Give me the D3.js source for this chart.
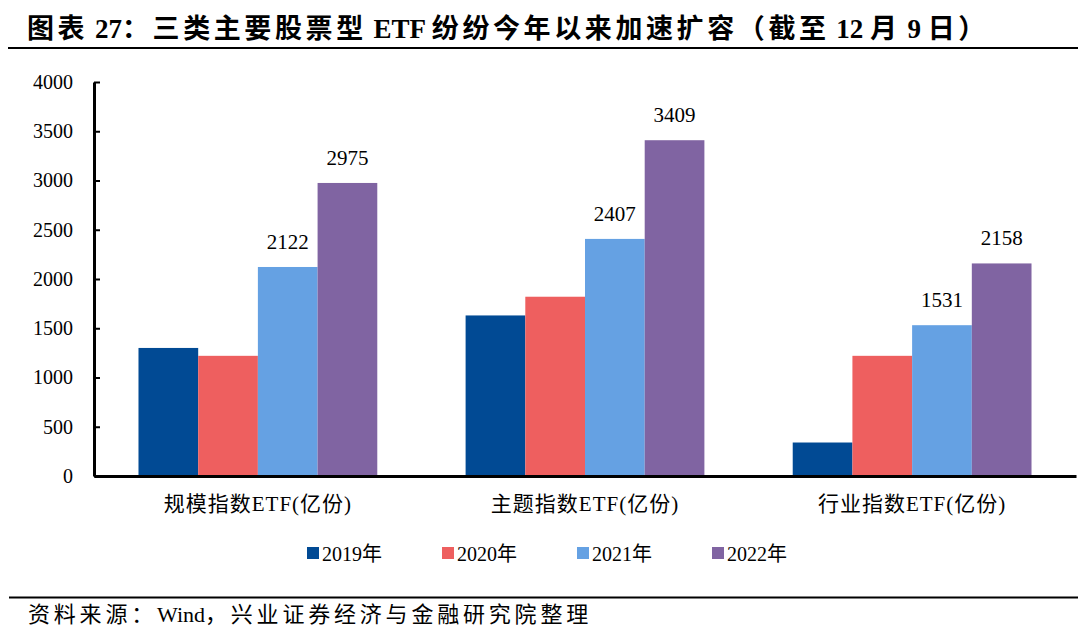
<!DOCTYPE html>
<html>
<head>
<meta charset="utf-8">
<script src="https://cdn.jsdelivr.net/npm/d3@7"></script>
<style>
  body { margin: 0; background: #fff; }
  svg { display: block; }
  text { font-family: "Liberation Serif", "Times New Roman", "Noto Sans CJK SC", serif; fill: #000; }
</style>
</head>
<body>
<svg id="chart" width="1080" height="629"></svg>
<script>
// data
const categories = ["规模指数ETF(亿份)", "主题指数ETF(亿份)", "行业指数ETF(亿份)"];
const years = ["2019年", "2020年", "2021年", "2022年"];
const values2019 = [1300, 1630, 340];
const values2020 = [1220, 1820, 1220];
const values2021 = [2122, 2407, 1531];
const values2022 = [2975, 3409, 2158];
const labelledYears = ["2021年", "2022年"];
const yTicks = [0, 500, 1000, 1500, 2000, 2500, 3000, 3500, 4000];
const colors = ["#014a94", "#ee5f5f", "#65a1e3", "#8064a2"];

const seriesValues = [values2019, values2020, values2021, values2022];
const rows = categories.map((c, i) => ({
  category: c,
  bars: years.map((y, j) => ({ year: y, value: seriesValues[j][i] }))
}));

const svg = d3.select("#chart");
const margin = { left: 94, right: 4, top: 82, bottom: 153 };
const width = 1080 - margin.left - margin.right;
const height = 629 - margin.top - margin.bottom;

// split text into latin / cjk runs so only the cjk part gets extra spacing
const addRuns = (textSel, str, cjkSpacing) => {
  const runs = str.match(/[\x00-\x7f]+|[^\x00-\x7f]+/g);
  textSel.selectAll("tspan").data(runs).enter().append("tspan")
    .style("letter-spacing", d => /[^\x00-\x7f]/.test(d) ? cjkSpacing : "0px")
    .text(d => d);
};

// title
const title = svg.append("text")
  .attr("x", 27).attr("y", 38)
  .style("font-size", "27px").style("font-weight", "bold");
addRuns(title, "图表 27：三类主要股票型 ETF 纷纷今年以来加速扩容（截至 12 月 9 日）", "3.6px");
svg.append("line")
  .attr("x1", 8).attr("x2", 1078).attr("y1", 48).attr("y2", 48)
  .attr("stroke", "#000").attr("stroke-width", 2);

const g = svg.append("g").attr("transform", `translate(${margin.left},${margin.top})`);

const x0 = d3.scaleBand().domain(categories).range([0, width]).paddingInner(0.27).paddingOuter(0.136);
const x1 = d3.scaleBand().domain(years).range([0, x0.bandwidth()]);
const y = d3.scaleLinear().domain([0, 4000]).range([height, 0]);
const color = d3.scaleOrdinal().domain(years).range(colors);

// bars
const groups = g.selectAll(".grp").data(rows).enter().append("g")
  .attr("transform", d => `translate(${x0(d.category)},0)`);
groups.selectAll("rect").data(d => d.bars).enter().append("rect")
  .attr("x", d => x1(d.year))
  .attr("y", d => y(d.value))
  .attr("width", x1.bandwidth())
  .attr("height", d => height - y(d.value))
  .attr("fill", d => color(d.year));
groups.selectAll(".lbl").data(d => d.bars.filter(b => labelledYears.includes(b.year)))
  .enter().append("text")
  .attr("x", d => x1(d.year) + x1.bandwidth() / 2)
  .attr("y", d => y(d.value) - 18)
  .attr("text-anchor", "middle")
  .style("font-size", "21px")
  .text(d => d.value);

// y axis
const yAxis = g.append("g")
  .call(d3.axisLeft(y).tickValues(yTicks).tickFormat(d3.format("d"))
    .tickSize(-6).tickPadding(21).tickSizeOuter(0));
yAxis.select(".domain").attr("stroke", "#000").attr("stroke-width", 3);
yAxis.selectAll(".tick line").attr("stroke", "#000").attr("stroke-width", 2);
yAxis.selectAll(".tick text").style("font-size", "20px")
  .style("font-family", "'Liberation Serif', serif").attr("fill", "#000");

// x axis
const xAxis = g.append("g").attr("transform", `translate(0,${height})`)
  .call(d3.axisBottom(x0).tickSize(0).tickPadding(20));
xAxis.select(".domain").attr("stroke", "#000").attr("stroke-width", 3);
xAxis.selectAll(".tick text").style("font-size", "21px").style("letter-spacing", "1px")
  .style("font-family", "'Liberation Serif', 'Noto Sans CJK SC', serif").attr("fill", "#000");

// legend
const legend = svg.append("g").attr("transform", "translate(307,547)");
const items = legend.selectAll("g").data(years).enter().append("g")
  .attr("transform", (d, i) => `translate(${i * 135},0)`);
items.append("rect").attr("width", 12).attr("height", 12).attr("fill", d => color(d));
items.append("text").attr("x", 15).attr("y", 14)
  .style("font-size", "20px").text(d => d);

// source
svg.append("line")
  .attr("x1", 9).attr("x2", 1078).attr("y1", 597.5).attr("y2", 597.5)
  .attr("stroke", "#000").attr("stroke-width", 2);
const source = svg.append("text")
  .attr("x", 28).attr("y", 622)
  .style("font-size", "22px");
addRuns(source, "资料来源：Wind，兴业证券经济与金融研究院整理", "3.8px");
</script>
</body>
</html>
